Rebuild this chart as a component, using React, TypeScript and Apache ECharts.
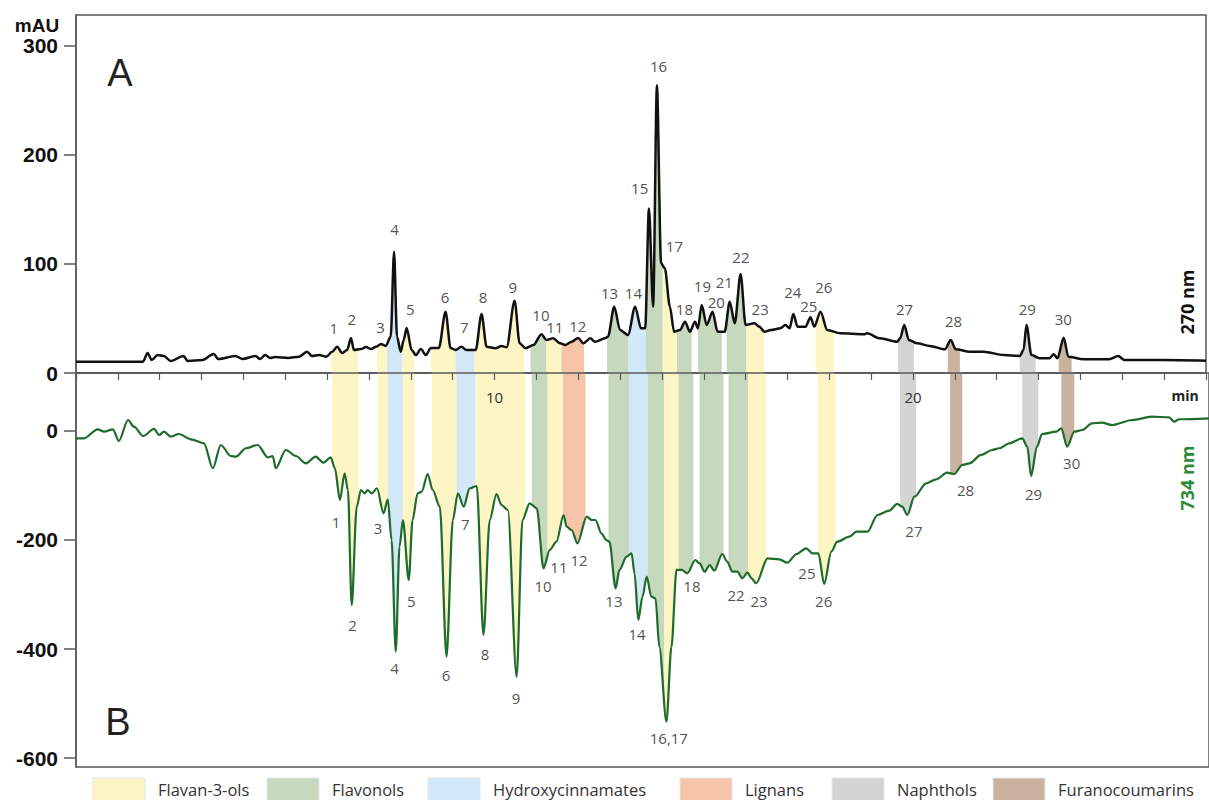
import React, { useEffect, useRef } from "react";
import * as echarts from "echarts";

// ---- DATA ----
// 270 nm trace (top panel A): [retention time (min), absorbance (mAU)]
const topTrace: [number, number][] = [
  [0.0, 10.4], [1.6, 10.4], [1.71, 18.3], [1.81, 11.9], [1.95, 16.5], [2.1, 15.6], [2.26, 11],
  [2.57, 15.6], [2.67, 11], [3.02, 11.9], [3.29, 17.4], [3.4, 12.8], [3.81, 15.6], [3.98, 12.8],
  [4.29, 15.6], [4.4, 12.8], [4.52, 16.5], [4.64, 13.8], [4.76, 14.7], [5.07, 13.8], [5.33, 15],
  [5.52, 19.5], [5.64, 15.6], [5.81, 16.5], [5.98, 15], [6.12, 19.5], [6.24, 24.1], [6.36, 18.3],
  [6.48, 21.1], [6.57, 32.1], [6.64, 21.1], [6.81, 22], [6.93, 23.9], [7.05, 22], [7.17, 24.1],
  [7.29, 26.6], [7.4, 24.8], [7.52, 33.3], [7.6, 111.3], [7.67, 33.3], [7.76, 19.5], [7.83, 30.3],
  [7.9, 41.3], [8.02, 21.1], [8.12, 16.5], [8.24, 22], [8.36, 16.5], [8.48, 22.9], [8.67, 22.9],
  [8.83, 56.2], [8.95, 22.9], [9.07, 21.1], [9.21, 24.1], [9.33, 21.1], [9.55, 21.1], [9.69, 54.1],
  [9.81, 24.1], [10.02, 22.7], [10.17, 24.8], [10.29, 23.6], [10.48, 66.3], [10.6, 27.2],
  [10.74, 22.7], [10.93, 25.7], [11.12, 35.5], [11.24, 30.3], [11.4, 31.8], [11.57, 27.2],
  [11.69, 25.7], [11.83, 28.4], [12.0, 32.1], [12.12, 27.2], [12.29, 31.8], [12.4, 28.7],
  [12.64, 31.8], [12.71, 33.3], [12.86, 60.8], [13.0, 39.4], [13.19, 34.9], [13.36, 60.8],
  [13.5, 41], [13.6, 41], [13.69, 151], [13.79, 60.8], [13.88, 264], [13.98, 100.6], [14.07, 96],
  [14.19, 60.8], [14.29, 37.9], [14.43, 39.4], [14.55, 47], [14.67, 37.9], [14.79, 47], [14.86, 41],
  [14.95, 62.4], [15.07, 44], [15.21, 56.2], [15.33, 37.9], [15.5, 37.9], [15.62, 65.4],
  [15.74, 45.6], [15.88, 90.8], [16.0, 44], [16.21, 45.6], [16.33, 42.5], [16.45, 37.9],
  [16.6, 39.4], [16.83, 41], [16.95, 44], [17.05, 41], [17.14, 54.1], [17.24, 42.5], [17.43, 42.5],
  [17.55, 51.1], [17.64, 42.5], [17.79, 56.2], [17.95, 39.4], [18.26, 36.4], [18.83, 35.5],
  [18.9, 36.4], [19.21, 31.8], [19.62, 28.7], [19.69, 31.8], [19.79, 44], [19.9, 30.3], [20.1, 27.2],
  [20.4, 24.8], [20.76, 21.7], [20.9, 30.3], [21.02, 21.7], [21.36, 19.5], [21.69, 19.5],
  [22.17, 16.5], [22.55, 15.6], [22.64, 21.1], [22.71, 44], [22.83, 16.5], [23.02, 13.5],
  [23.26, 13.5], [23.36, 17.1], [23.45, 13.5], [23.6, 32.4], [23.71, 15], [24.07, 12.6],
  [24.69, 12.6], [24.9, 15.6], [25.05, 11.9], [25.98, 11.9], [27.0, 11.3],
];

// 734 nm trace (bottom panel B): [retention time (min), signal (mAU)]
const bottomTrace: [number, number][] = [
  [0.0, -13.4], [0.19, -13.4], [0.52, 3.1], [0.67, -1.3], [0.88, 3.1], [1.02, -18.3], [1.24, 20.2],
  [1.38, 7.9], [1.6, -9.2], [1.86, 3.7], [1.98, -7.3], [2.1, -1.3], [2.26, -10.5], [2.45, -5.5],
  [2.74, -15.2], [3.05, -22.6], [3.26, -68.4], [3.45, -25.7], [3.69, -45.9], [3.81, -47.2],
  [4.05, -31.7], [4.33, -25.7], [4.57, -48.3], [4.69, -45.9], [4.76, -68.4], [5.0, -34.9],
  [5.24, -45.9], [5.48, -59.3], [5.71, -47.2], [5.9, -58.2], [6.07, -48.3], [6.17, -68.4],
  [6.29, -126.6], [6.4, -77.6], [6.48, -108.3], [6.57, -319.3], [6.69, -138.9], [6.79, -108.3],
  [6.88, -114.3], [6.95, -108.3], [7.05, -114.3], [7.17, -105.1], [7.33, -151], [7.43, -125.3],
  [7.52, -200], [7.62, -405], [7.71, -212.3], [7.79, -163.3], [7.93, -273.4], [8.02, -163.3],
  [8.14, -114.3], [8.24, -111.4], [8.38, -78.9], [8.5, -108.3], [8.67, -138.9], [8.83, -414.1],
  [8.98, -163.3], [9.1, -114.3], [9.24, -138.9], [9.38, -105.1], [9.55, -100.9], [9.71, -374.3],
  [9.86, -163.3], [10.02, -115.6], [10.14, -135.8], [10.29, -145], [10.5, -450.8], [10.64, -163.3],
  [10.81, -132.7], [10.98, -141.8], [11.14, -251.9], [11.29, -218.3], [11.45, -203.1],
  [11.62, -154.1], [11.69, -175.6], [11.81, -181.7], [11.95, -206.1], [12.17, -157.2],
  [12.29, -163.3], [12.38, -163.3], [12.52, -187.7], [12.64, -200], [12.71, -203.1], [12.86, -288.6],
  [12.95, -255], [13.12, -230.6], [13.24, -224.4], [13.31, -261.1], [13.4, -346.8], [13.5, -304],
  [13.6, -267.3], [13.71, -304], [13.81, -307], [13.9, -395.8], [14.07, -533.4], [14.19, -395.8],
  [14.31, -255], [14.43, -255], [14.57, -261.1], [14.76, -236.7], [14.86, -242.8], [14.98, -258.2],
  [15.1, -245.9], [15.21, -256.3], [15.4, -225.7], [15.52, -239.8], [15.64, -258.2],
  [15.76, -258.2], [15.88, -270.3], [16.0, -260], [16.1, -270.3], [16.21, -279.4], [16.48, -233.6],
  [16.76, -235.4], [16.95, -241.7], [17.17, -225.7], [17.4, -215.2], [17.55, -224.4],
  [17.69, -224.4], [17.83, -280.7], [18.0, -221.5], [18.14, -203.1], [18.43, -193.9],
  [18.6, -184.8], [18.86, -184.8], [19.1, -154.1], [19.38, -146.2], [19.57, -133.9],
  [19.69, -138.9], [19.81, -154.1], [19.98, -120.6], [20.26, -96], [20.5, -88.6], [20.76, -76.5],
  [20.93, -78.9], [21.12, -62.4], [21.29, -59.3], [21.57, -44], [21.83, -34.9], [22.0, -31.7],
  [22.24, -22.6], [22.55, -13.4], [22.67, -28.8], [22.76, -82.6], [22.9, -28.8], [23.02, -5.5],
  [23.36, -1.3], [23.48, 5], [23.62, -28.8], [23.79, -1.3], [23.98, 1.8], [24.21, 14.1],
  [24.45, 15.2], [24.69, 11], [25.17, 20.2], [25.64, 26.2], [26.05, 25.1], [26.17, 17.1],
  [26.29, 21.5], [27.0, 23.3],
];

// compound classes
const classNames = ["Flavan-3-ols", "Flavonols", "Hydroxycinnamates", "Lignans", "Naphthols", "Furanocoumarins"];

// shaded peak windows: [start (min), end (min), class index]
const bandStarts = [6.1, 7.19, 7.43, 7.79, 8.48, 9.07, 9.52, 10.86, 11.24, 11.6, 12.69, 13.19, 13.62, 14.02, 14.36, 14.86, 15.55, 16.02, 17.67, 19.64, 20.83, 22.55, 23.48];
const bandEnds = [6.74, 7.43, 7.79, 8.07, 9.07, 9.52, 10.71, 11.24, 11.6, 12.14, 13.19, 13.62, 14.02, 14.36, 14.71, 15.43, 16.02, 16.45, 18.1, 20.02, 21.12, 22.93, 23.79];
const bandClass = [0, 0, 2, 0, 0, 2, 0, 1, 0, 3, 1, 2, 1, 0, 1, 1, 1, 0, 0, 4, 5, 4, 5];

// peak annotations: label, time (min), label height (mAU)
const topPeakNames = ["1", "2", "3", "4", "5", "6", "7", "8", "9", "10", "11", "12", "13", "14", "15", "16", "17", "18", "19", "20", "21", "22", "23", "24", "25", "26", "27", "28", "29", "30"];
const topPeakTimes = [6.17, 6.6, 7.29, 7.62, 8.0, 8.83, 9.29, 9.74, 10.45, 11.12, 11.45, 12.0, 12.76, 13.33, 13.48, 13.93, 14.31, 14.55, 14.98, 15.31, 15.5, 15.9, 16.36, 17.14, 17.52, 17.88, 19.81, 20.98, 22.74, 23.6];
const topPeakLabelY = [40.4, 49.5, 41.3, 131.2, 57.8, 68.8, 41.3, 68.8, 78, 52.3, 41.3, 43.1, 72.5, 72.5, 169.7, 280.7, 115.6, 57.8, 78.9, 65.1, 82.6, 105.5, 57.8, 74.3, 60.6, 78, 57.8, 46.8, 57.8, 49.5];

const bottomPeakNames = ["1", "2", "3", "4", "5", "6", "7", "8", "9", "10", "11", "12", "13", "14", "16,17", "18", "22", "23", "25", "26", "27", "28", "29", "30"];
const bottomPeakTimes = [6.21, 6.6, 7.21, 7.6, 8.0, 8.83, 9.29, 9.76, 10.5, 11.14, 11.52, 12.0, 12.83, 13.38, 14.14, 14.69, 15.74, 16.29, 17.43, 17.83, 19.98, 21.21, 22.83, 23.74];
const bottomPeakLabelY = [-167, -356, -178, -435, -312, -448, -171, -411, -490, -286, -250, -237, -312, -374, -565, -286, -301, -312, -261, -312, -185, -110, -116, -59];

const topTicks = [0, 100, 200, 300];
const bottomTicks = [-600, -400, -200, 0];
const xLabelTicks = [10, 20];

// ---- STYLE ----
const classColors = ["#fdf5c4", "#c6d9be", "#d2e7f7", "#f6c4a8", "#d4d4d4", "#c9b39f"];
const frameColor = "#5a5a5a";
const greenDark = "#1e6b2b";
const greenText = "#2a8a36";
const sans = "'Open Sans', 'DejaVu Sans', sans-serif";
const boldSans = "'Liberation Sans', Arial, sans-serif";
const SMOOTH = 0.3;

function interp(trace: [number, number][], x: number): number {
  for (let i = 0; i < trace.length - 1; i++) {
    const a = trace[i];
    const b = trace[i + 1];
    if (x >= a[0] && x <= b[0]) {
      const t = (x - a[0]) / (b[0] - a[0]);
      return a[1] + t * (b[1] - a[1]);
    }
  }
  return trace[trace.length - 1][1];
}

function segment(trace: [number, number][], x0: number, x1: number): [number, number][] {
  const pts: [number, number][] = [[x0, interp(trace, x0)]];
  trace.forEach((p) => {
    if (p[0] > x0 && p[0] < x1) pts.push(p);
  });
  pts.push([x1, interp(trace, x1)]);
  return pts;
}

export default function App() {
  const ref = useRef<HTMLDivElement>(null);

  useEffect(() => {
    if (!ref.current) return;
    const chart = echarts.init(ref.current, null, { renderer: "svg" });

    const bandSeries: any[] = [];
    bandStarts.forEach((s, i) => {
      const color = classColors[bandClass[i]];
      bandSeries.push({
        type: "line",
        name: classNames[bandClass[i]],
        xAxisIndex: 0,
        yAxisIndex: 0,
        data: segment(topTrace, s, bandEnds[i]),
        symbol: "none",
        smooth: SMOOTH,
        smoothMonotone: "x",
        lineStyle: { width: 0, opacity: 0 },
        areaStyle: { color, opacity: 1, origin: "start" },
        z: 1,
        silent: true,
      });
      bandSeries.push({
        type: "line",
        name: classNames[bandClass[i]],
        xAxisIndex: 1,
        yAxisIndex: 1,
        data: segment(bottomTrace, s, bandEnds[i]),
        symbol: "none",
        smooth: SMOOTH,
        smoothMonotone: "x",
        lineStyle: { width: 0, opacity: 0 },
        areaStyle: { color, opacity: 1, origin: "end" },
        z: 1,
        silent: true,
      });
    });

    const peakLabel = {
      show: true,
      position: [0, 0],
      align: "center",
      verticalAlign: "middle",
      formatter: "{b}",
      fontSize: 15,
      color: "#222222",
      textBorderWidth: 0,
      fontFamily: sans,
    };

    const axisLine = { show: true, onZero: false, lineStyle: { color: frameColor, width: 1.5 } };
    const tickLine = { color: frameColor, width: 1.5 };
    const yLabel = { fontSize: 21, fontWeight: "bold", color: "#111", margin: 18, fontFamily: boldSans };

    const legendGraphics: any[] = [];
    const legendRectX = [93, 267, 428, 680, 832, 993];
    classNames.forEach((n, i) => {
      legendGraphics.push({
        type: "rect",
        shape: { x: legendRectX[i], y: 778, width: 52, height: 30 },
        style: { fill: classColors[i], stroke: "#e6e6e6", lineWidth: 1 },
      });
      legendGraphics.push({
        type: "text",
        x: legendRectX[i] + 65,
        y: 789,
        style: { text: n, fontSize: 16.5, fill: "#333", fontFamily: sans, align: "left", verticalAlign: "middle" },
      });
    });

    const option: any = {
      animation: false,
      backgroundColor: "#ffffff",
      grid: [
        { left: 76, right: -3, top: 15, height: 358, show: true, borderColor: frameColor, borderWidth: 1.5, backgroundColor: "transparent" },
        { left: 76, right: -3, top: 373, height: 394, show: true, borderColor: frameColor, borderWidth: 1.5, backgroundColor: "transparent" },
      ],
      xAxis: [
        {
          type: "value",
          gridIndex: 0,
          min: 0,
          max: 27,
          interval: 1,
          position: "bottom",
          z: 6,
          axisLine,
          axisTick: { show: true, length: 7, lineStyle: { color: frameColor, width: 1.2 } },
          axisLabel: {
            formatter: (v: number) => (xLabelTicks.indexOf(v) >= 0 ? String(v) : ""),
            fontSize: 15,
            color: "#333",
            margin: 16,
            fontFamily: sans,
          },
          splitLine: { show: false },
        },
        { type: "value", gridIndex: 1, min: 0, max: 27, show: false, splitLine: { show: false } },
      ],
      yAxis: [
        {
          type: "value",
          gridIndex: 0,
          min: 0,
          max: 328.4,
          axisLine,
          axisTick: { show: true, length: 12, customValues: topTicks, lineStyle: tickLine },
          axisLabel: { ...yLabel, customValues: topTicks },
          splitLine: { show: false },
        },
        {
          type: "value",
          gridIndex: 1,
          min: -616.5,
          max: 106.4,
          axisLine,
          axisTick: { show: true, length: 12, customValues: bottomTicks, lineStyle: tickLine },
          axisLabel: { ...yLabel, customValues: bottomTicks },
          splitLine: { show: false },
        },
      ],
      series: [
        ...bandSeries,
        {
          type: "line",
          name: "270 nm",
          xAxisIndex: 0,
          yAxisIndex: 0,
          data: topTrace,
          symbol: "none",
          smooth: SMOOTH,
          smoothMonotone: "x",
          lineStyle: { color: "#111", width: 2.5, join: "round" },
          z: 3,
          silent: true,
        },
        {
          type: "line",
          name: "734 nm",
          xAxisIndex: 1,
          yAxisIndex: 1,
          data: bottomTrace,
          symbol: "none",
          smooth: SMOOTH,
          smoothMonotone: "x",
          lineStyle: { color: greenDark, width: 2.2, join: "round" },
          z: 3,
          silent: true,
        },
        {
          type: "scatter",
          xAxisIndex: 0,
          yAxisIndex: 0,
          symbolSize: 1,
          itemStyle: { color: "rgba(0,0,0,0)" },
          label: peakLabel,
          data: topPeakNames.map((n, i) => ({ name: n, value: [topPeakTimes[i], topPeakLabelY[i]] })),
          z: 4,
          silent: true,
        },
        {
          type: "scatter",
          xAxisIndex: 1,
          yAxisIndex: 1,
          symbolSize: 1,
          itemStyle: { color: "rgba(0,0,0,0)" },
          label: peakLabel,
          data: bottomPeakNames.map((n, i) => ({ name: n, value: [bottomPeakTimes[i], bottomPeakLabelY[i]] })),
          z: 4,
          silent: true,
        },
      ],
      graphic: [
        { type: "text", x: 37, y: 25, style: { text: "mAU", fontSize: 19, fontWeight: "bold", fill: "#111", fontFamily: boldSans, align: "center", verticalAlign: "middle" } },
        { type: "text", x: 120, y: 73, style: { text: "A", fontSize: 38, fill: "#222", fontFamily: boldSans, align: "center", verticalAlign: "middle" } },
        { type: "text", x: 118, y: 722, style: { text: "B", fontSize: 38, fill: "#222", fontFamily: boldSans, align: "center", verticalAlign: "middle" } },
        { type: "text", x: 1187, y: 302, rotation: Math.PI / 2, style: { text: "270 nm", fontSize: 18, fontWeight: "bold", fill: "#111", fontFamily: sans, align: "center", verticalAlign: "middle" } },
        { type: "text", x: 1187, y: 478, rotation: Math.PI / 2, style: { text: "734 nm", fontSize: 18, fontWeight: "bold", fill: greenText, fontFamily: sans, align: "center", verticalAlign: "middle" } },
        { type: "text", x: 1185, y: 395, style: { text: "min", fontSize: 14, fontWeight: "bold", fill: "#222", fontFamily: sans, align: "center", verticalAlign: "middle" } },
        ...legendGraphics,
      ],
    };

    chart.setOption(option);
    return () => chart.dispose();
  }, []);

  return (
    <div
      ref={ref}
      style={{ position: "fixed", left: 0, top: 0, width: 1209, height: 800, background: "#fff" }}
    />
  );
}
